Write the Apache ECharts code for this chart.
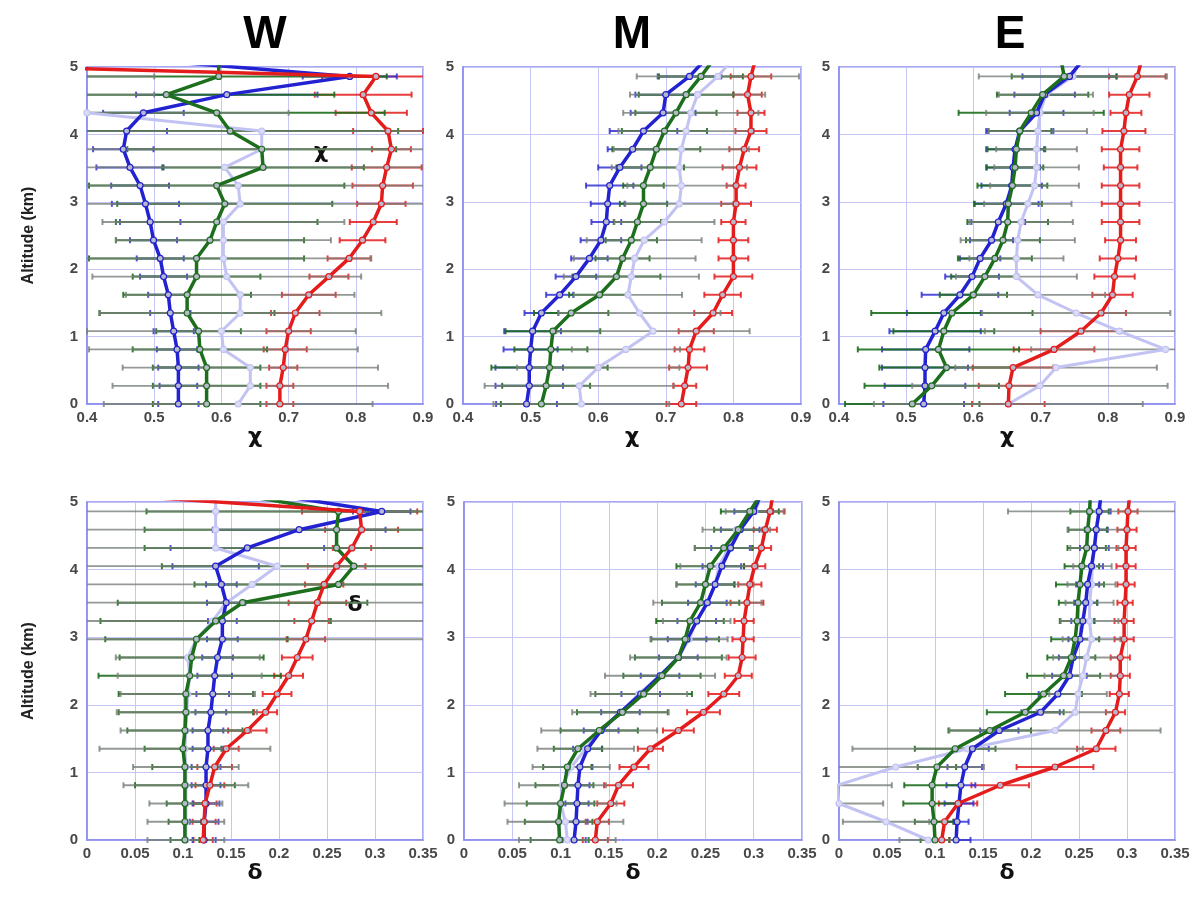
<!DOCTYPE html>
<html>
<head>
<meta charset="utf-8">
<script src="https://cdn.jsdelivr.net/npm/echarts@6/dist/echarts.min.js"></script>
<style>html,body{margin:0;padding:0;background:#fff}#c{width:1198px;height:897px}</style>
</head>
<body>
<div id="c"></div>
<script>
// Altitude levels (km); the last level lies above the plotted range and is clipped
const ALT = [0,0.27,0.54,0.81,1.08,1.35,1.62,1.89,2.16,2.43,2.70,2.97,3.24,3.51,3.78,4.05,4.32,4.59,4.86,5.13];
const PANEL_TITLES = ['W','M','E'];
const CHI_TICKS = [0.4,0.5,0.6,0.7,0.8,0.9];
const DELTA_TICKS = [0,0.05,0.1,0.15,0.2,0.25,0.3,0.35];
const ALT_TICKS = [0,1,2,3,4,5];

// ---- chi, W ----
const W_chi_red   = [0.687,0.687,0.692,0.695,0.70,0.71,0.73,0.76,0.79,0.81,0.826,0.838,0.84,0.846,0.853,0.848,0.823,0.811,0.83,-0.18];
const W_chi_redE  = [0.02,0.02,0.021,0.032,0.033,0.036,0.04,0.029,0.032,0.034,0.035,0.036,0.045,0.052,0.029,0.052,0.053,0.072,0.08];
const W_chi_blue  = [0.536,0.536,0.536,0.534,0.529,0.524,0.521,0.514,0.509,0.499,0.494,0.487,0.479,0.464,0.454,0.459,0.484,0.608,0.791,0.46];
const W_chi_blueE = [0.03,0.028,0.03,0.03,0.03,0.03,0.03,0.035,0.035,0.035,0.045,0.05,0.043,0.05,0.045,0.06,0.06,0.135,0.07];
const W_chi_green = [0.578,0.578,0.578,0.568,0.566,0.549,0.549,0.563,0.563,0.583,0.593,0.605,0.593,0.662,0.66,0.613,0.593,0.518,0.596,0.596];
const W_chi_greenE= [0.08,0.08,0.08,0.1,0.063,0.13,0.095,0.095,0.16,0.14,0.15,0.16,0.19,0.15,0.2,0.25,0.25,0.25,0.25];
const W_chi_lav   = [0.625,0.643,0.643,0.603,0.60,0.628,0.628,0.608,0.603,0.603,0.603,0.628,0.625,0.605,0.66,0.66,0.40,0.2,0.2,0.2];
const W_chi_lavE  = [0.2,0.205,0.19,0.2,0.2,0.21,0.17,0.2,0.22,0.16,0.18,0.3,0.3,0.3,0.3,0.3,0.3,0.3,0.3];

// ---- chi, M ----
const M_chi_red   = [0.723,0.728,0.733,0.735,0.745,0.77,0.784,0.80,0.80,0.80,0.80,0.804,0.804,0.809,0.816,0.826,0.826,0.821,0.826,0.833];
const M_chi_redE  = [0.022,0.017,0.028,0.022,0.026,0.028,0.027,0.028,0.022,0.022,0.018,0.022,0.014,0.025,0.022,0.023,0.02,0.021,0.03];
const M_chi_blue  = [0.494,0.498,0.498,0.50,0.503,0.516,0.543,0.567,0.587,0.604,0.612,0.614,0.617,0.632,0.651,0.667,0.696,0.70,0.735,0.76];
const M_chi_blueE = [0.045,0.05,0.05,0.04,0.042,0.025,0.02,0.03,0.027,0.03,0.022,0.025,0.035,0.032,0.037,0.05,0.048,0.045,0.047];
const M_chi_green = [0.516,0.523,0.528,0.53,0.533,0.56,0.602,0.627,0.636,0.649,0.658,0.667,0.667,0.677,0.686,0.698,0.715,0.73,0.752,0.772];
const M_chi_greenE= [0.06,0.065,0.086,0.054,0.07,0.055,0.045,0.065,0.04,0.038,0.035,0.035,0.03,0.05,0.065,0.063,0.06,0.07,0.062];
const M_chi_lav   = [0.575,0.572,0.60,0.641,0.681,0.661,0.644,0.649,0.654,0.668,0.698,0.72,0.723,0.72,0.723,0.73,0.737,0.747,0.777,0.80];
const M_chi_lavE  = [0.13,0.14,0.12,0.08,0.143,0.12,0.08,0.1,0.09,0.085,0.074,0.08,0.08,0.1,0.1,0.1,0.1,0.1,0.12];

// ---- chi, E ----
const E_chi_red   = [0.652,0.653,0.659,0.72,0.76,0.79,0.807,0.81,0.815,0.819,0.819,0.819,0.819,0.819,0.819,0.824,0.827,0.832,0.844,0.851];
const E_chi_redE  = [0.054,0.045,0.06,0.06,0.06,0.037,0.03,0.03,0.027,0.023,0.028,0.028,0.028,0.025,0.028,0.032,0.023,0.03,0.042];
const E_chi_blue  = [0.526,0.528,0.528,0.529,0.543,0.556,0.58,0.598,0.61,0.627,0.637,0.649,0.657,0.659,0.662,0.669,0.694,0.706,0.743,0.765];
const E_chi_blueE = [0.06,0.06,0.064,0.065,0.068,0.055,0.057,0.04,0.03,0.032,0.04,0.048,0.045,0.04,0.043,0.05,0.04,0.045,0.07];
const E_chi_green = [0.509,0.538,0.56,0.548,0.556,0.568,0.60,0.617,0.632,0.644,0.651,0.652,0.658,0.662,0.664,0.669,0.686,0.703,0.735,0.73];
const E_chi_greenE= [0.1,0.1,0.1,0.12,0.075,0.12,0.05,0.05,0.055,0.055,0.06,0.05,0.052,0.042,0.043,0.047,0.108,0.068,0.078];
const E_chi_lav   = [0.652,0.699,0.723,0.886,0.817,0.753,0.696,0.664,0.664,0.666,0.671,0.681,0.691,0.694,0.694,0.696,0.699,0.708,0.748,0.76];
const E_chi_lavE  = [0.2,0.19,0.15,0.2,0.2,0.14,0.1,0.09,0.07,0.085,0.077,0.065,0.066,0.063,0.06,0.073,0.08,0.07,0.14];

// ---- delta, W ----
const W_del_red   = [0.121,0.122,0.123,0.128,0.133,0.145,0.167,0.186,0.198,0.21,0.219,0.228,0.234,0.24,0.247,0.26,0.276,0.286,0.284,0.0];
const W_del_redE  = [0.01,0.012,0.012,0.015,0.018,0.013,0.02,0.012,0.015,0.015,0.016,0.02,0.018,0.03,0.02,0.03,0.02,0.038,0.06];
const W_del_blue  = [0.122,0.122,0.124,0.124,0.124,0.126,0.126,0.129,0.131,0.133,0.136,0.141,0.141,0.145,0.14,0.134,0.167,0.221,0.307,0.184];
const W_del_blueE = [0.012,0.015,0.014,0.015,0.015,0.016,0.016,0.016,0.017,0.018,0.016,0.016,0.015,0.02,0.016,0.045,0.08,0.09,0.03];
const W_del_green = [0.102,0.102,0.102,0.102,0.102,0.10,0.102,0.103,0.103,0.107,0.109,0.114,0.134,0.162,0.262,0.278,0.26,0.26,0.262,0.149];
const W_del_greenE= [0.015,0.017,0.019,0.052,0.034,0.04,0.06,0.07,0.07,0.095,0.075,0.095,0.12,0.13,0.15,0.2,0.2,0.2,0.2];
const W_del_lav   = [0.103,0.103,0.103,0.103,0.103,0.102,0.103,0.104,0.105,0.107,0.105,0.114,0.131,0.145,0.172,0.198,0.134,0.134,0.134,0.134];
const W_del_lavE  = [0.04,0.04,0.038,0.065,0.055,0.089,0.068,0.073,0.07,0.075,0.075,0.3,0.3,0.3,0.3,0.3,0.3,0.3,0.3];

// ---- delta, M ----
const M_del_red   = [0.136,0.138,0.152,0.16,0.176,0.193,0.222,0.248,0.269,0.284,0.288,0.289,0.29,0.293,0.296,0.301,0.308,0.312,0.317,0.32];
const M_del_redE  = [0.013,0.012,0.014,0.015,0.015,0.013,0.016,0.017,0.016,0.014,0.014,0.011,0.01,0.017,0.012,0.011,0.01,0.012,0.015];
const M_del_blue  = [0.114,0.116,0.117,0.118,0.12,0.128,0.142,0.162,0.183,0.203,0.222,0.231,0.241,0.252,0.26,0.267,0.276,0.286,0.30,0.308];
const M_del_blueE = [0.012,0.012,0.012,0.012,0.013,0.015,0.018,0.02,0.02,0.02,0.02,0.02,0.02,0.02,0.02,0.02,0.02,0.02,0.02];
const M_del_green = [0.099,0.098,0.10,0.104,0.107,0.118,0.14,0.164,0.186,0.205,0.222,0.229,0.234,0.245,0.25,0.255,0.269,0.284,0.296,0.308];
const M_del_greenE= [0.03,0.035,0.035,0.03,0.025,0.025,0.04,0.047,0.05,0.04,0.045,0.035,0.035,0.04,0.03,0.035,0.03,0.025,0.03];
const M_del_lav   = [0.107,0.105,0.10,0.102,0.111,0.126,0.14,0.162,0.181,0.203,0.222,0.233,0.241,0.252,0.26,0.264,0.274,0.282,0.301,0.31];
const M_del_lavE  = [0.05,0.06,0.058,0.045,0.04,0.05,0.06,0.05,0.05,0.057,0.05,0.04,0.035,0.056,0.04,0.04,0.035,0.035,0.03];

// ---- delta, E ----
const E_del_red   = [0.107,0.11,0.124,0.168,0.225,0.268,0.278,0.288,0.292,0.293,0.293,0.297,0.297,0.298,0.299,0.299,0.299,0.30,0.301,0.303];
const E_del_redE  = [0.008,0.01,0.02,0.03,0.04,0.02,0.015,0.01,0.01,0.01,0.01,0.01,0.01,0.008,0.009,0.01,0.01,0.01,0.01];
const E_del_blue  = [0.122,0.123,0.125,0.127,0.131,0.139,0.167,0.21,0.228,0.24,0.244,0.251,0.254,0.257,0.259,0.263,0.266,0.268,0.271,0.273];
const E_del_blueE = [0.015,0.012,0.015,0.015,0.018,0.017,0.02,0.02,0.02,0.018,0.015,0.012,0.012,0.012,0.012,0.012,0.015,0.012,0.012];
const E_del_green = [0.10,0.099,0.097,0.097,0.102,0.121,0.157,0.194,0.213,0.234,0.242,0.246,0.248,0.249,0.251,0.253,0.258,0.259,0.261,0.262];
const E_del_greenE= [0.015,0.02,0.03,0.029,0.02,0.042,0.043,0.04,0.04,0.038,0.025,0.025,0.018,0.02,0.025,0.018,0.02,0.02,0.02];
const E_del_lav   = [0.093,0.049,0.0,-0.002,0.059,0.134,0.225,0.246,0.249,0.254,0.258,0.263,0.261,0.261,0.263,0.264,0.266,0.268,0.27,0.272];
const E_del_lavE  = [0.03,0.045,0.046,0.057,0.092,0.12,0.11,0.04,0.03,0.04,0.035,0.03,0.03,0.025,0.025,0.02,0.025,0.03,0.094];

const PANELS = [
  {grid:{left:87, top:67, width:336, height:337}, min:0.4, max:0.9, interval:0.1, name:'\u03c7', yName:true,
   red:W_chi_red, redE:W_chi_redE, blue:W_chi_blue, blueE:W_chi_blueE, green:W_chi_green, greenE:W_chi_greenE, lav:W_chi_lav, lavE:W_chi_lavE},
  {grid:{left:463, top:67, width:338, height:337}, min:0.4, max:0.9, interval:0.1, name:'\u03c7', yName:false,
   red:M_chi_red, redE:M_chi_redE, blue:M_chi_blue, blueE:M_chi_blueE, green:M_chi_green, greenE:M_chi_greenE, lav:M_chi_lav, lavE:M_chi_lavE},
  {grid:{left:839, top:67, width:336, height:337}, min:0.4, max:0.9, interval:0.1, name:'\u03c7', yName:false,
   red:E_chi_red, redE:E_chi_redE, blue:E_chi_blue, blueE:E_chi_blueE, green:E_chi_green, greenE:E_chi_greenE, lav:E_chi_lav, lavE:E_chi_lavE},
  {grid:{left:87, top:502, width:336, height:338}, min:0, max:0.35, interval:0.05, name:'\u03b4', yName:true,
   red:W_del_red, redE:W_del_redE, blue:W_del_blue, blueE:W_del_blueE, green:W_del_green, greenE:W_del_greenE, lav:W_del_lav, lavE:W_del_lavE},
  {grid:{left:464, top:502, width:338, height:338}, min:0, max:0.35, interval:0.05, name:'\u03b4', yName:false,
   red:M_del_red, redE:M_del_redE, blue:M_del_blue, blueE:M_del_blueE, green:M_del_green, greenE:M_del_greenE, lav:M_del_lav, lavE:M_del_lavE},
  {grid:{left:839, top:502, width:336, height:338}, min:0, max:0.35, interval:0.05, name:'\u03b4', yName:false,
   red:E_del_red, redE:E_del_redE, blue:E_del_blue, blueE:E_del_blueE, green:E_del_green, greenE:E_del_greenE, lav:E_del_lav, lavE:E_del_lavE}
];

const COL = {red:'#e41c1c', blue:'#2222d0', green:'#1d6e1d', lav:'#c3c3f3'};
const ERRCOL = {red:'rgba(228,40,40,0.9)', blue:'rgba(50,50,210,0.85)', green:'rgba(30,110,30,0.9)', lav:'rgba(120,128,120,0.8)'};

function errRender(color, width) {
  return function (params, api) {
    const x = api.value(0), y = api.value(1), e = api.value(2);
    const a = api.coord([x - e, y]);
    const b = api.coord([x + e, y]);
    const r = params.coordSys;
    const x0 = r.x, x1 = r.x + r.width;
    const ax = Math.max(a[0], x0), bx = Math.min(b[0], x1);
    if (bx <= ax) return null;
    const children = [{type:'line', shape:{x1:ax, y1:a[1], x2:bx, y2:a[1]}, style:{stroke:color, lineWidth:width}}];
    [a[0], b[0]].forEach(function (px) {
      if (px >= x0 - 0.5 && px <= x1 + 0.5) {
        children.push({type:'line', shape:{x1:px, y1:a[1]-3, x2:px, y2:a[1]+3}, style:{stroke:color, lineWidth:2}});
      }
    });
    return {type:'group', children: children};
  };
}

const grids = [], xAxes = [], yAxes = [], series = [];
const labelStyle = {fontFamily:'Liberation Sans', fontSize:15, fontWeight:'bold', color:'#484848'};

PANELS.forEach(function (p, i) {
  grids.push(Object.assign({show:true, borderColor:'#8a8af0', borderWidth:1.5, backgroundColor:'#fff'}, p.grid));
  xAxes.push({type:'value', gridIndex:i, min:p.min, max:p.max, interval:p.interval,
    name:p.name, nameLocation:'middle', nameGap:22,
    nameTextStyle:{fontFamily:'DejaVu Sans', fontSize:22, fontWeight:'bold', color:'#111'},
    axisLine:{show:true, lineStyle:{color:'#8a8af0', width:1.5}}, axisTick:{show:false},
    splitLine:{show:true, lineStyle:{color:'#c6c6f6', width:1}},
    axisLabel:Object.assign({margin:6, formatter:function(v){return String(+v.toFixed(2));}}, labelStyle)});
  yAxes.push({type:'value', gridIndex:i, min:0, max:5, interval:1,
    name:p.yName ? 'Altitude (km)' : '', nameLocation:'middle', nameGap:50,
    nameTextStyle:{fontFamily:'Liberation Sans', fontSize:16, fontWeight:'bold', color:'#222'},
    axisLine:{show:true, lineStyle:{color:'#8a8af0', width:1.5}}, axisTick:{show:false},
    splitLine:{show:true, lineStyle:{color:'#c6c6f6', width:1}},
    axisLabel:Object.assign({margin:9}, labelStyle)});

  ['red','blue','green','lav'].forEach(function (k) {
    const vals = p[k], errs = p[k + 'E'];
    const d = [];
    for (let j = 0; j < errs.length; j++) d.push([vals[j], ALT[j], errs[j]]);
    series.push({type:'custom', xAxisIndex:i, yAxisIndex:i, z:(k === 'lav' ? 3 : 2),
      renderItem:errRender(ERRCOL[k], k === 'lav' ? 1.8 : 2), data:d, encode:{x:0, y:1}, silent:true});
  });
  const zOrder = {lav:4, green:6, blue:5, red:7};
  ['lav','blue','green','red'].forEach(function (k) {
    const vals = p[k];
    series.push({type:'line', xAxisIndex:i, yAxisIndex:i, z:zOrder[k], clip:true,
      data:vals.map(function (v, j) { return [v, ALT[j]]; }),
      showSymbol:true, symbol:'circle', symbolSize:6,
      lineStyle:{color:COL[k], width:k === 'lav' ? 3 : 3.5},
      itemStyle:{color:(k === 'lav' ? '#dcdcf6' : '#b8b8cc'), borderColor:COL[k], borderWidth:1.2},
      silent:true, animation:false});
  });
});

const graphics = [];
const titleX = [265, 632, 1010];
PANEL_TITLES.forEach(function (t, i) {
  graphics.push({type:'text', x:titleX[i], y:35, style:{text:t, fill:'#000',
    font:'bold 46px "Liberation Sans"', align:'center', verticalAlign:'middle', textAlign:'center', textVerticalAlign:'middle'}});
});
graphics.push({type:'text', x:321, y:152, style:{text:'\u03c7', fill:'#111', font:'bold 22px "DejaVu Sans"', align:'center', verticalAlign:'middle', textAlign:'center', textVerticalAlign:'middle'}});
graphics.push({type:'text', x:355, y:605, style:{text:'\u03b4', fill:'#111', font:'bold 22px "DejaVu Sans"', align:'center', verticalAlign:'middle', textAlign:'center', textVerticalAlign:'middle'}});

const chart = echarts.init(document.getElementById('c'), null, {renderer:'canvas'});
chart.setOption({animation:false, backgroundColor:'#fff', grid:grids, xAxis:xAxes, yAxis:yAxes, series:series, graphic:graphics});
</script>
</body>
</html>
